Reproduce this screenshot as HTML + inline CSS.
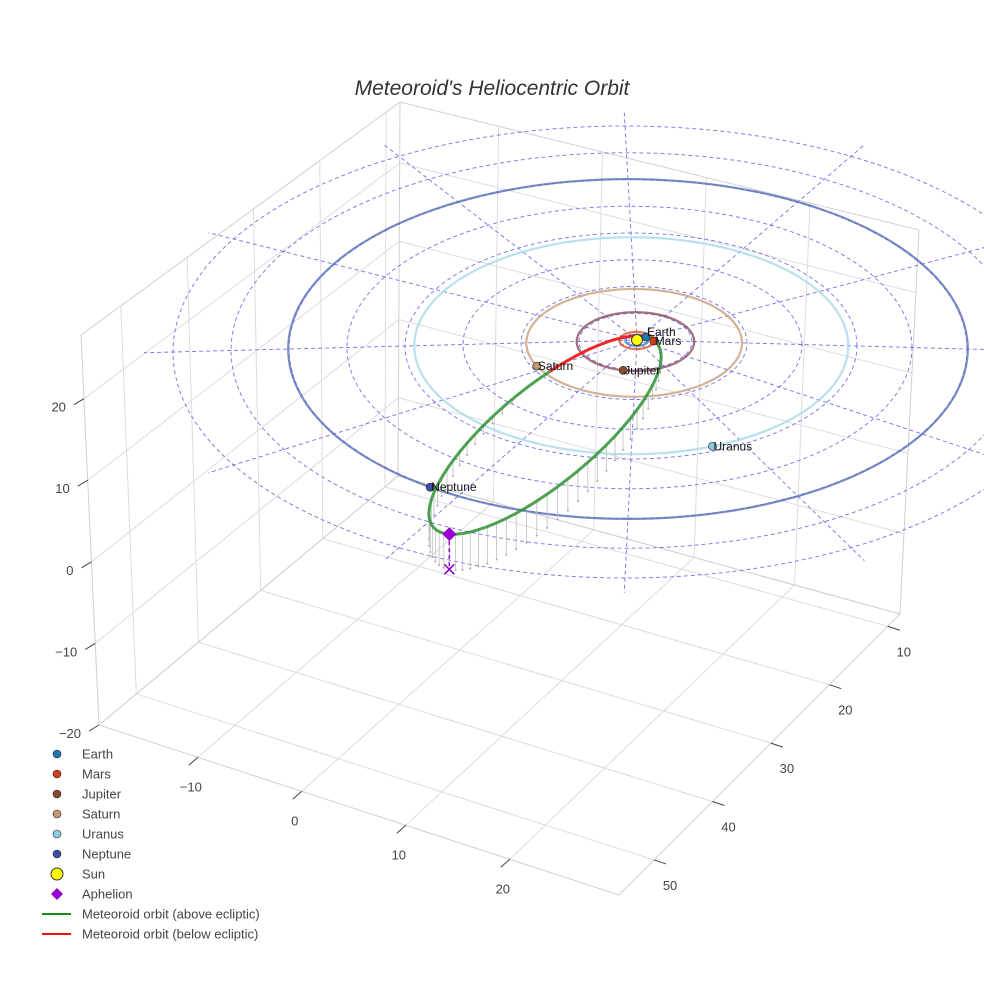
<!DOCTYPE html>
<html><head><meta charset="utf-8"><style>
html,body{margin:0;padding:0;background:#fff;}
svg{display:block;font-family:"Liberation Sans",Arial,sans-serif;}
</style></head><body>
<svg id="chart" width="984" height="984" viewBox="0 0 984 984" xmlns="http://www.w3.org/2000/svg">
<rect width="984" height="984" fill="#fff"/>
<text x="492" y="95" text-anchor="middle" font-size="21" font-style="italic" fill="#333">Meteoroid's Heliocentric Orbit</text>
<g id="box"></g><g id="eclip"></g><g id="orbits"></g><g id="met"></g><g id="marks"></g><g id="legend"></g>
</svg>
<script>
// ---- data ----
const xTicks=[-10,0,10,20];
const yTicks=[10,20,30,40,50];
const zTicks=[-20,-10,0,10,20];
const planetNames=["Earth","Mars","Jupiter","Saturn","Uranus","Neptune"];
const planetRadius=[1.0,1.52,5.2,9.54,19.2,30.07];
const planetAngle=[35,-3.5,258,205.5,292,234.4];
const planetColor=["#1f77b4","#d1401a","#8b4a2b","#c49a70","#8ccbe0","#3b4fa8"];
const orbitColor=["#3b7fd0","#e0502a","#8b4a5a","#c8a07a","#a8d8e8","#5a6fb8"];
const gridRings=[5,10,15,20,25,30,35,40];
const gridSpokes=[0,30,60,90,120,150,180,210,240,270,300,330];
const meteorPerihelion=[0.95];
const meteorAphelion=[41.4];
const meteorAphelionAngle=[248];
const meteorAphelionZ=[4.4];
const meteorNodeAngle=[214];

const NS="http://www.w3.org/2000/svg";
function el(tag,attrs,parent){const e=document.createElementNS(NS,tag);for(const k in attrs)e.setAttribute(k,attrs[k]);parent.appendChild(e);return e;}
const box=document.getElementById('box'),eclip=document.getElementById('eclip'),orb=document.getElementById('orbits'),met=document.getElementById('met'),marks=document.getElementById('marks'),leg=document.getElementById('legend');

// ---- box (layout geometry) ----
const L=[99,725],F=[619,895],R=[900,614],B=[398,476],Lt=[81,335],Bt=[400,102],Rt=[919,230];
function quad(P00,P10,P01,P11,s,t){return [P00[0]*(1-s)*(1-t)+P10[0]*s*(1-t)+P01[0]*(1-s)*t+P11[0]*s*t,P00[1]*(1-s)*(1-t)+P10[1]*s*(1-t)+P01[1]*(1-s)*t+P11[1]*s*t];}
const xf=v=>(v+19.5)/50, yf=v=>(56-v)/48.1, zf=v=>(v+20)/47.8;
function ln(a,b,stroke,w,parent,name){const e=el('line',{x1:a[0],y1:a[1],x2:b[0],y2:b[1],stroke:stroke,'stroke-width':w},parent);

return e;}
const gc="#dcdcdc";
xTicks.forEach(v=>{const s=xf(v);
 ln(quad(L,F,B,R,s,0),quad(L,F,B,R,s,1),gc,1,box,'floor-gridline-x');
 ln(quad(B,R,Bt,Rt,s,0),quad(B,R,Bt,Rt,s,1),gc,1,box,'backwall-gridline-x');});
yTicks.forEach(v=>{const t=yf(v);
 ln(quad(L,F,B,R,0,t),quad(L,F,B,R,1,t),gc,1,box,'floor-gridline-y');
 ln(quad(L,B,Lt,Bt,t,0),quad(L,B,Lt,Bt,t,1),gc,1,box,'leftwall-gridline-y');});
zTicks.forEach(v=>{const w=zf(v);
 ln(quad(L,B,Lt,Bt,0,w),quad(L,B,Lt,Bt,1,w),gc,1,box,'leftwall-gridline-z');
 ln(quad(B,R,Bt,Rt,0,w),quad(B,R,Bt,Rt,1,w),gc,1,box,'backwall-gridline-z');});
[[L,F],[F,R],[L,B],[B,R],[L,Lt],[B,Bt],[R,Rt],[Lt,Bt],[Bt,Rt]].forEach(p=>ln(p[0],p[1],"#d0d0d0",1,box,'box-edge'));
// ticks
xTicks.forEach(v=>{const P=quad(L,F,B,R,xf(v),0);ln(P,[P[0]-9,P[1]+8],"#444",1,box,'x-tick');
 const t=el('text',{x:P[0]-7,y:P[1]+34,'text-anchor':'middle','font-size':13,fill:'#444'},box);t.textContent=String(v).replace('-','\u2212');
 
 });
yTicks.forEach(v=>{const P=quad(L,F,B,R,1,yf(v));ln(P,[P[0]+12,P[1]+4],"#444",1,box,'y-tick');
 const t=el('text',{x:P[0]+16,y:P[1]+30,'text-anchor':'middle','font-size':13,fill:'#444'},box);t.textContent=v;
 
 });
zTicks.forEach(v=>{const P=quad(L,B,Lt,Bt,0,zf(v));ln(P,[P[0]-10,P[1]+6],"#444",1,box,'z-tick');
 const t=el('text',{x:P[0]-18,y:P[1]+13,'text-anchor':'end','font-size':13,fill:'#444'},box);t.textContent=String(v).replace('-','\u2212');
 
 });

// ---- ecliptic projection ----
const CX=637,CY=340,SX=11.3,SY=5.65,SZ=8;
function proj(X,Y,Z){const r=Math.hypot(X,Y);return [CX-0.3*r+SX*X, CY+0.3*r-SY*Y-SZ*Z];}
function ringPath(r){let d="";for(let i=0;i<=180;i++){const a=i/180*2*Math.PI;const p=proj(r*Math.cos(a),r*Math.sin(a),0);d+=(i?"L":"M")+p[0].toFixed(1)+","+p[1].toFixed(1);}return d;}
const dashC="#5a5ae6";
gridRings.forEach(r=>{const e=el('path',{d:ringPath(r),fill:'none',stroke:dashC,'stroke-width':0.9,'stroke-dasharray':'4,3',opacity:0.85},eclip);
 
 });
gridSpokes.forEach(a=>{const rad=a*Math.PI/180;const p=proj(42.5*Math.cos(rad),42.5*Math.sin(rad),0);
 const e=ln([CX,CY],p,dashC,0.9,eclip,'ecliptic-spoke');e.setAttribute('stroke-dasharray','4,3');e.setAttribute('opacity','0.85');});
// planet orbits
planetRadius.forEach((r,i)=>{const e=el('path',{d:ringPath(r),fill:'none',stroke:orbitColor[i],'stroke-width':2.2,opacity:0.8},orb);
 
 });

// ---- meteoroid ----
const q=meteorPerihelion[0],Q=meteorAphelion[0],a=(q+Q)/2,c=a-q,b=Math.sqrt(a*a-c*c);
const th=meteorAphelionAngle[0]*Math.PI/180,u=[Math.cos(th),Math.sin(th)],w=[-Math.sin(th),Math.cos(th)];
const nn=(meteorNodeAngle[0]+90)*Math.PI/180,n=[Math.cos(nn),Math.sin(nn)];
const k=meteorAphelionZ[0]/(Q*(n[0]*u[0]+n[1]*u[1]));
function mpt(E){const X=c*u[0]+a*Math.cos(E)*u[0]+b*Math.sin(E)*w[0];const Y=c*u[1]+a*Math.cos(E)*u[1]+b*Math.sin(E)*w[1];return [X,Y,k*(n[0]*X+n[1]*Y)];}
// drop lines
for(let i=0;i<70;i++){const E=i/70*2*Math.PI;const p=mpt(E);if(p[2]>0.4){const A=proj(p[0],p[1],p[2]),Bp=proj(p[0],p[1],0);
 ln(A,Bp,"#bdbdbd",0.8,met,'drop-line');
 const d=el('circle',{cx:Bp[0],cy:Bp[1],r:1,fill:'#aaa'},met);
 
 }}
// orbit runs
let runs=[],cur=null;
for(let i=0;i<=400;i++){const E=i/400*2*Math.PI;const p=mpt(E);const s=p[2]>=0;const sp=proj(p[0],p[1],p[2]);
 if(!cur||cur.s!==s){if(cur)cur.pts.push(sp);cur={s:s,pts:[sp]};runs.push(cur);}else cur.pts.push(sp);}
runs.forEach(rn=>{const e=el('polyline',{points:rn.pts.map(p=>p[0].toFixed(1)+","+p[1].toFixed(1)).join(" "),fill:'none',stroke:rn.s?'#2e9132':'#ee1c1c','stroke-width':3,opacity:rn.s?0.85:0.95},met);
 
 });
// aphelion
const apX=Q*u[0],apY=Q*u[1],AP=proj(apX,apY,meteorAphelionZ[0]),AX=proj(apX,apY,0);
const dl=ln(AP,AX,"#9400d3",1.5,marks,'aphelion-drop-line');dl.setAttribute('stroke-dasharray','4,3');
const xm=el('path',{d:`M${AX[0]-5},${AX[1]-5}L${AX[0]+5},${AX[1]+5}M${AX[0]-5},${AX[1]+5}L${AX[0]+5},${AX[1]-5}`,stroke:'#9400d3','stroke-width':1.5},marks);


const dm=el('path',{d:`M${AP[0]},${AP[1]-7}L${AP[0]+7},${AP[1]}L${AP[0]},${AP[1]+7}L${AP[0]-7},${AP[1]}Z`,fill:'#9400d3'},marks);


// sun
const sun=el('circle',{cx:CX,cy:CY,r:5.5,fill:'#ffff00',stroke:'#333','stroke-width':1},marks);


// planets
planetNames.forEach((nm,i)=>{const ang=planetAngle[i]*Math.PI/180,r=planetRadius[i];const p=proj(r*Math.cos(ang),r*Math.sin(ang),0);
 const m=el('circle',{cx:p[0],cy:p[1],r:4,fill:planetColor[i],stroke:'#222','stroke-width':0.6},marks);
 
 
 const t=el('text',{x:p[0]+1,y:p[1]+(i===0?-1:4),'font-size':12,fill:'#111'},marks);t.textContent=nm;
 
 });

// ---- legend ----
const legendNames=["Earth","Mars","Jupiter","Saturn","Uranus","Neptune","Sun","Aphelion","Meteoroid orbit (above ecliptic)","Meteoroid orbit (below ecliptic)"];
legendNames.forEach((nm,i)=>{const y=754+i*20;const g=el('g',{},leg);
 
 
 if(i<6)el('circle',{cx:57,cy:y,r:4,fill:planetColor[i],stroke:'#222','stroke-width':0.6},g);
 else if(i===6)el('circle',{cx:57,cy:y,r:6,fill:'#ffff00',stroke:'#333','stroke-width':1},g);
 else if(i===7)el('path',{d:`M57,${y-6}L63,${y}L57,${y+6}L51,${y}Z`,fill:'#9400d3'},g);
 else el('line',{x1:42,y1:y,x2:71,y2:y,stroke:i===8?'#1a8a1a':'#ee1111','stroke-width':2},g);
 const t=el('text',{x:82,y:y+4.5,'font-size':13,fill:'#444'},g);t.textContent=nm;});
</script>
</body></html>
